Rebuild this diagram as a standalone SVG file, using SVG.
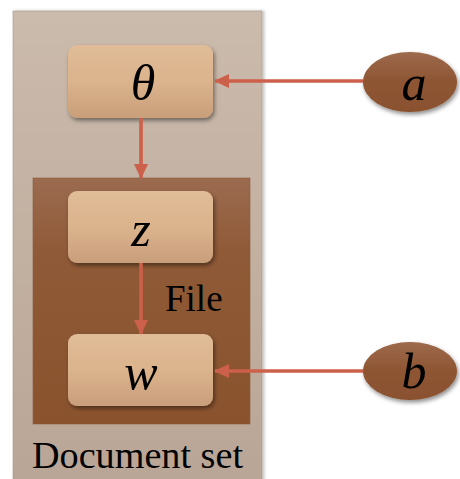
<svg xmlns="http://www.w3.org/2000/svg" width="460" height="479" viewBox="0 0 460 479">
<defs>
<linearGradient id="gOuter" x1="0" y1="0" x2="0" y2="1">
<stop offset="0" stop-color="#cbbbad"/>
<stop offset="1" stop-color="#b9a595"/>
</linearGradient>
<linearGradient id="gInner" x1="0" y1="0" x2="0" y2="1">
<stop offset="0" stop-color="#9c6b50"/>
<stop offset="0.3" stop-color="#8f5a37"/>
<stop offset="1" stop-color="#8a532e"/>
</linearGradient>
<linearGradient id="gBox" x1="0" y1="0" x2="0" y2="1">
<stop offset="0" stop-color="#e0bc98"/>
<stop offset="0.5" stop-color="#dbb38c"/>
<stop offset="1" stop-color="#c99f7b"/>
</linearGradient>
<linearGradient id="gEll" x1="0" y1="0" x2="0" y2="1">
<stop offset="0" stop-color="#9d6a4c"/>
<stop offset="0.5" stop-color="#8e5533"/>
<stop offset="1" stop-color="#8a512f"/>
</linearGradient>
<filter id="sh" x="-20%" y="-20%" width="150%" height="150%">
<feDropShadow dx="1.5" dy="2.5" stdDeviation="2.2" flood-color="#000" flood-opacity="0.45"/>
</filter>
<filter id="shOuter" x="-10%" y="-10%" width="120%" height="120%">
<feDropShadow dx="2" dy="0" stdDeviation="1.5" flood-color="#000" flood-opacity="0.25"/>
</filter>
<marker id="arr2" viewBox="0 0 15 14" markerWidth="15" markerHeight="14" refX="14" refY="7" orient="auto" markerUnits="userSpaceOnUse">
<path d="M0,0 L15,7 L0,14 Z" fill="#cd604a"/>
</marker>
</defs>
<style>
.box{fill:url(#gBox);filter:url(#sh)}
.ell{fill:url(#gEll);filter:url(#sh)}
.var{font-family:"Liberation Serif","DejaVu Serif",serif;font-style:italic;font-size:50px;fill:#000;text-anchor:middle}
.lbl{font-family:"Liberation Serif","DejaVu Serif",serif;fill:#000}
.edge{stroke:#cd604a;stroke-width:3.6;fill:none;marker-end:url(#arr2)}
</style>
<g id="document-set">
<rect x="13" y="11" width="249" height="480" fill="url(#gOuter)" stroke="#a89888" stroke-width="0.6" filter="url(#shOuter)"/>
<text class="lbl" x="137.5" y="468" font-size="37" text-anchor="middle" textLength="211" lengthAdjust="spacingAndGlyphs">Document set</text>
</g>
<g id="file">
<rect x="33" y="178" width="217" height="246" fill="url(#gInner)" stroke="#8a5a3c" stroke-width="0.6"/>
<text class="lbl" x="165" y="311" font-size="37">File</text>
</g>
<g id="theta">
<rect class="box" x="68" y="45" width="145" height="73" rx="9"/>
<text class="var" x="143" y="100">θ</text>
</g>
<g id="z">
<rect class="box" x="68" y="191" width="145" height="72" rx="9"/>
<text class="var" x="141" y="246">z</text>
</g>
<g id="w">
<rect class="box" x="68" y="334" width="145" height="72" rx="9"/>
<text class="var" x="141" y="389">w</text>
</g>
<g id="a">
<ellipse class="ell" cx="410" cy="82" rx="47" ry="30"/>
<text class="var" x="414" y="100">a</text>
</g>
<g id="b">
<ellipse class="ell" cx="410" cy="371" rx="47" ry="29"/>
<text class="var" x="414" y="388">b</text>
</g>
<g id="connectors">
<line class="edge" x1="141" y1="118" x2="141" y2="178"/>
<line class="edge" x1="141" y1="263" x2="141" y2="334"/>
<line class="edge" x1="363" y1="81" x2="215" y2="81"/>
<line class="edge" x1="363" y1="371" x2="215" y2="371"/>
</g>
</svg>
